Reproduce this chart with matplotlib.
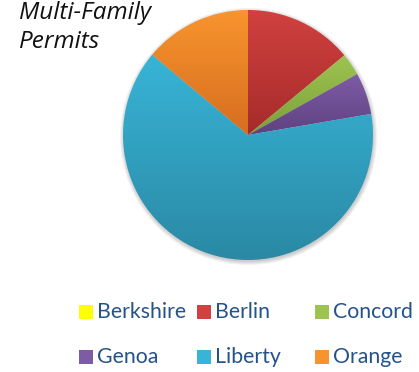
import numpy as np
import matplotlib
matplotlib.use("Agg")
import matplotlib.pyplot as plt
from matplotlib.colors import to_rgb
from matplotlib.patches import Rectangle, Circle

# share of multi-family permits by town (percent)
towns = ["Berkshire", "Berlin", "Concord", "Genoa", "Liberty", "Orange"]
permits = [0.0, 14.0, 2.9, 5.4, 63.8, 13.9]
top_colors = ["#FFFF00", "#D0413F", "#9DC451", "#7D5BA5", "#38B4D7", "#F8942E"]
bottom_colors = ["#FFFF00", "#A62B2B", "#7C9F38", "#5F4282", "#2A89A4", "#D66E1F"]

W, H = 419, 372
fig = plt.figure(figsize=(W / 100, H / 100), dpi=100)

# pie area: centre (248, 135), radius 125 px
cx, cy, r = 248, 135, 125
ax = fig.add_axes([(cx - r) / W, (H - cy - r) / H, 2 * r / W, 2 * r / H])

# soft shadow under the pie
for k in range(6):
    ax.add_patch(Circle((0.005, -0.012), 1.0 + 0.006 * k, facecolor="black",
                        edgecolor="none", alpha=0.035, zorder=0, clip_on=False))

wedges, _ = ax.pie(permits, startangle=90, counterclock=False, radius=1,
                   colors=top_colors, wedgeprops=dict(linewidth=0))

# vertical gradient inside every slice
for w, c0, c1, v in zip(wedges, top_colors, bottom_colors, permits):
    if v <= 0:
        continue
    verts = w.get_patch_transform().transform(w.get_path().vertices)
    x0, x1 = verts[:, 0].min(), verts[:, 0].max()
    y0, y1 = verts[:, 1].min(), verts[:, 1].max()
    t = np.linspace(0, 1, 64)[:, None]
    grad = (1 - t) * np.array(to_rgb(c0)) + t * np.array(to_rgb(c1))
    img = ax.imshow(grad[:, None, :].repeat(2, axis=1), extent=[x0, x1, y0, y1],
                    origin="upper", aspect="auto", interpolation="bilinear", zorder=1)
    img.set_clip_path(w)
    w.set_facecolor("none")
    w.set_zorder(2)
ax.set_xlim(-1, 1)
ax.set_ylim(-1, 1)
ax.set_aspect("equal")
ax.axis("off")

fig.text(19 / W, 1 - 1 / H, "Multi-Family\nPermits", ha="left", va="top",
         fontsize=17.5, style="italic", family="Open Sans", color="#111111",
         linespacing=1.3)

# legend: three evenly spaced columns, two rows
text_color = "#24528A"
col_x = [79, 197, 315]
row_y = [312, 357]
for i, (name, c0, c1) in enumerate(zip(towns, top_colors, bottom_colors)):
    x = col_x[i % 3]
    y = row_y[i // 3]
    fig.patches.append(Rectangle((x / W, (H - y - 7) / H), 14 / W, 14 / H,
                                 transform=fig.transFigure, facecolor=c0,
                                 edgecolor="none"))
    fig.text((x + 18) / W, 1 - y / H, name, ha="left", va="center",
             fontsize=15.3, family="Lato", color=text_color)

fig.savefig("out.png", dpi=100)
